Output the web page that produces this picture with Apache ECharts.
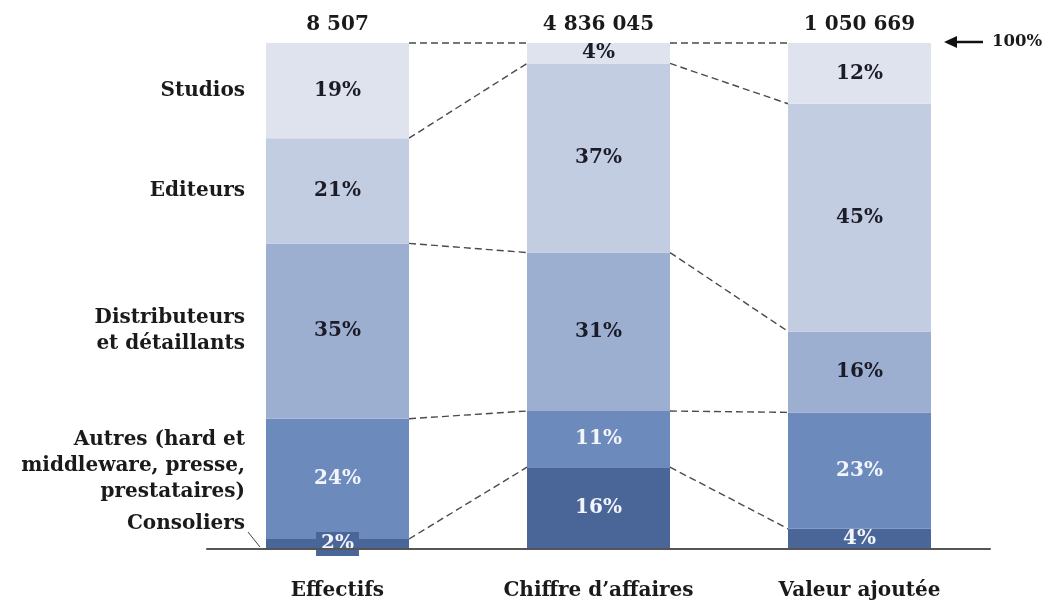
<!DOCTYPE html>
<html><head><meta charset="utf-8">
<script src="https://cdn.jsdelivr.net/npm/echarts@6/dist/echarts.min.js"></script>
<style>html,body{margin:0;padding:0;background:#fff}#c{width:1047px;height:601px}</style>
</head><body><div id="c"></div>
<script>
// ---- data ----
const categories = ['Effectifs', 'Chiffre d\u2019affaires', 'Valeur ajoutée'];
const totals = [8507, 4836045, 1050669];
const seriesNames = ['Consoliers', 'Autres', 'Distributeurs', 'Editeurs', 'Studios'];
const seriesLabels = ['Consoliers', 'Autres (hard et\nmiddleware, presse,\nprestataires)', 'Distributeurs\net détaillants', 'Editeurs', 'Studios'];
const consoliers = [2, 16, 4];
const autres = [24, 11, 23];
const distributeurs = [35, 31, 16];
const editeurs = [21, 37, 45];
const studios = [19, 4, 12];
const topLabel = '100%';

// ---- styles ----
const raw = [consoliers, autres, distributeurs, editeurs, studios];
const colors = ['#4a6699', '#6c8abb', '#9cafd0', '#c3cde1', '#dee3ee'];
const labelColors = ['#f2f5fb', '#f2f5fb', '#1c1c28', '#1c1c28', '#1c1c28'];
const nameOffsets = [-20, -13, 0, 0, 0];
const FONT = '"DejaVu Serif", serif';
const FS = 20;
const BAR_W = 143;
const HALF = BAR_W / 2;

// normalise each column to 100 %
const sums = categories.map((c, i) => raw.reduce((a, s) => a + s[i], 0));
const norm = raw.map(s => s.map((v, i) => v / sums[i] * 100));
// cumulative tops
const cum = categories.map((c, i) => {
  let acc = 0; return norm.map(s => (acc += s[i]));
});

function fmtTotal(n) { return String(n).replace(/\B(?=(\d{3})+(?!\d))/g, ' '); }

const barSeries = seriesNames.map((name, k) => ({
  name, type: 'bar', stack: 'all', barWidth: BAR_W, silent: true,
  itemStyle: { color: colors[k] },
  label: {
    show: true, position: 'inside',
    fontFamily: FONT, fontWeight: 'bold', fontSize: FS, color: labelColors[k],
    formatter: p => raw[k][p.dataIndex] + '%'
  },
  data: norm[k].map((v, i) => (k === 0 && i === 0)
    ? { value: v, label: { backgroundColor: colors[0], padding: [3, 5, 1, 5] } }
    : v)
}));

const connectors = {
  type: 'custom', silent: true, z: 1,
  data: [[0], [1]],
  renderItem: (params, api) => {
    const i = api.value(0);
    const children = [];
    for (let k = 0; k < seriesNames.length; k++) {
      const a = api.coord([i, cum[i][k]]);
      const b = api.coord([i + 1, cum[i + 1][k]]);
      children.push({
        type: 'line',
        shape: { x1: a[0] + HALF, y1: a[1], x2: b[0] - HALF, y2: b[1] },
        style: { stroke: '#4a4a4a', lineWidth: 1.4, lineDash: [7, 4] }
      });
    }
    return { type: 'group', children };
  }
};

const decorations = {
  type: 'custom', silent: true, z: 5, clip: false,
  data: [[0]],
  renderItem: (params, api) => {
    const children = [];
    let prev = 0;
    for (let k = 0; k < seriesNames.length; k++) {
      const mid = (prev + cum[0][k]) / 2; prev = cum[0][k];
      const p = api.coord([0, mid]);
      children.push({
        type: 'text',
        style: {
          text: seriesLabels[k], x: p[0] - HALF - 21, y: p[1] + nameOffsets[k],
          align: 'right', verticalAlign: 'middle', lineHeight: 26,
          fontFamily: FONT, fontWeight: 'bold', fontSize: FS, fill: '#1a1a1a'
        }
      });
    }
    const base = api.coord([0, 0]);
    children.push({
      type: 'line',
      shape: { x1: base[0] - HALF - 18, y1: base[1] - 17, x2: base[0] - HALF - 6, y2: base[1] - 2 },
      style: { stroke: '#444', lineWidth: 1 }
    });
    const t = api.coord([categories.length - 1, 100]);
    const ax = t[0] + HALF + 13;
    children.push({
      type: 'line', shape: { x1: ax + 8, y1: t[1] - 1, x2: ax + 39, y2: t[1] - 1 },
      style: { stroke: '#111', lineWidth: 2.5 }
    });
    children.push({
      type: 'polygon', shape: { points: [[ax, t[1] - 1], [ax + 13, t[1] - 7], [ax + 13, t[1] + 5]] },
      style: { fill: '#111' }
    });
    children.push({
      type: 'text',
      style: {
        text: topLabel, x: ax + 48, y: t[1] - 1, align: 'left', verticalAlign: 'middle',
        fontFamily: FONT, fontWeight: 'bold', fontSize: 16.5, fill: '#1a1a1a'
      }
    });
    return { type: 'group', children };
  }
};

const chart = echarts.init(document.getElementById('c'), null, { renderer: 'canvas' });
chart.setOption({
  animation: false,
  backgroundColor: '#fff',
  grid: { left: 207, right: 57, top: 43, bottom: 51 },
  xAxis: [{
    type: 'category', data: categories, position: 'bottom', z: 6,
    axisLine: { lineStyle: { color: '#555', width: 2 } },
    axisTick: { show: false },
    axisLabel: { margin: 32, fontFamily: FONT, fontWeight: 'bold', fontSize: FS, color: '#1a1a1a' }
  }, {
    type: 'category', data: totals.map(fmtTotal), position: 'top',
    axisLine: { show: false }, axisTick: { show: false },
    axisLabel: { margin: 8, fontFamily: FONT, fontWeight: 'bold', fontSize: FS, color: '#1a1a1a' }
  }],
  yAxis: { type: 'value', min: 0, max: 100, show: false },
  series: [...barSeries, connectors, decorations]
});
</script></body></html>
